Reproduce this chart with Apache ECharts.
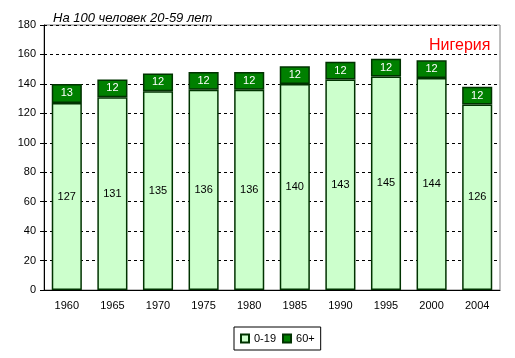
<!DOCTYPE html>
<html><head><meta charset="utf-8">
<script src="https://cdn.jsdelivr.net/npm/echarts@6/dist/echarts.min.js"></script>
<style>html,body{margin:0;padding:0;background:#fff}#c{width:515px;height:358px}</style>
</head><body><div id="c"></div>
<script>
const years = ['1960','1965','1970','1975','1980','1985','1990','1995','2000','2004'];
const young = [127,131,135,136,136,140,143,145,144,126];
const old = [13,12,12,12,12,12,12,12,12,12];
const yTicks = {min:0, max:180, interval:20};
const F = '"Liberation Sans", Arial, sans-serif';
const chart = echarts.init(document.getElementById('c'), null, {renderer:'canvas'});
chart.setOption({
  animation:false,
  textStyle:{fontFamily:F},
  title:[
    {text:'На 100 человек 20-59 лет', left:48, top:7, textStyle:{fontFamily:F, fontStyle:'italic', fontWeight:'normal', fontSize:13, color:'#000'}},
    {text:'Нигерия', left:424, top:33, textStyle:{fontFamily:F, fontWeight:'normal', fontSize:16, color:'#ff0000'}}
  ],
  grid:{left:44, right:15, top:25, bottom:68, show:true, borderColor:'#808080', borderWidth:1},
  legend:{bottom:8, left:234, itemWidth:8, itemHeight:8, itemGap:6, padding:[6,6,6,6],
    borderColor:'#000', borderWidth:1, textStyle:{fontFamily:F, fontSize:11, color:'#000'},
    data:[{name:'0-19', icon:'rect'},{name:'60+', icon:'rect'}]},
  xAxis:{type:'category', data:years, axisTick:{show:false},
    axisLine:{lineStyle:{color:'#000', width:1}},
    axisLabel:{fontFamily:F, fontSize:11, color:'#000', margin:10}},
  yAxis:{type:'value', min:yTicks.min, max:yTicks.max, interval:yTicks.interval,
    axisLine:{show:true, lineStyle:{color:'#000'}},
    axisTick:{show:true, length:4, lineStyle:{color:'#000'}},
    splitLine:{lineStyle:{color:'#000', type:[3,3], width:1}},
    axisLabel:{fontFamily:F, fontSize:11, color:'#000', margin:8}},
  series:[
    {name:'0-19', type:'bar', stack:'a', data:young, barWidth:'66%',
     itemStyle:{color:'#ccffcc', borderColor:'#003300', borderWidth:1.5},
     label:{show:true, position:'inside', color:'#000', fontFamily:F, fontSize:11}},
    {name:'60+', type:'bar', stack:'a', data:old, barWidth:'66%',
     itemStyle:{color:'#008000', borderColor:'#003300', borderWidth:1.5},
     label:{show:true, position:'inside', color:'#fff', fontFamily:F, fontSize:11}}
  ]
});
</script></body></html>
